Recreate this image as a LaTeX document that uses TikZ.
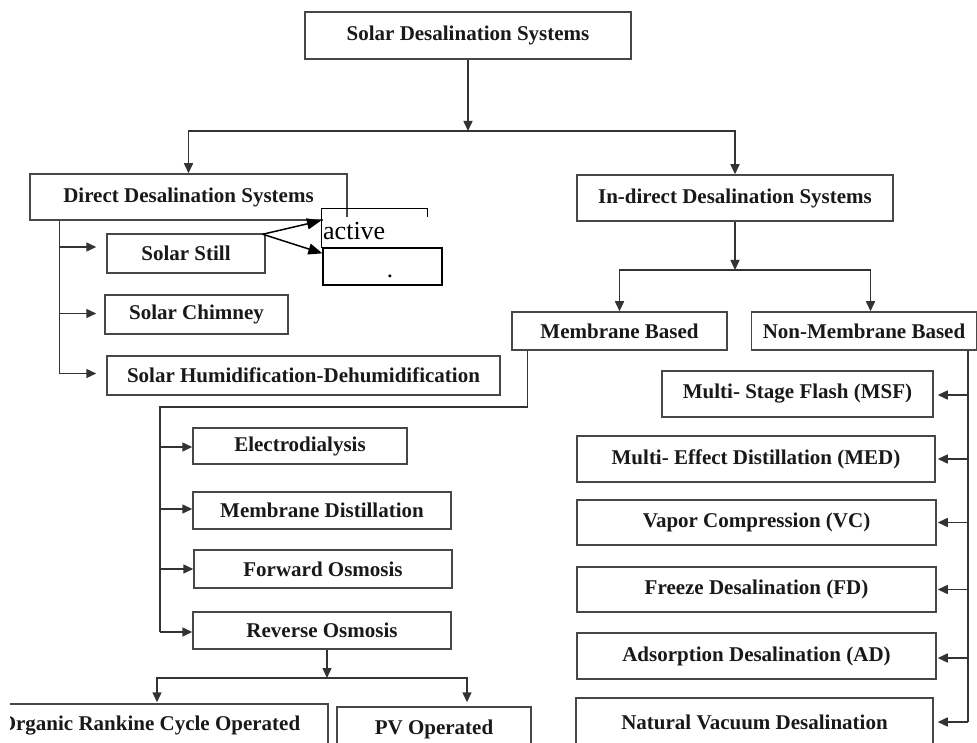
\documentclass[tikz,border=0pt]{standalone}
\usepackage{fontspec}
\setmainfont{Liberation Serif}
\usetikzlibrary{arrows.meta,calc}
\begin{document}
\begin{tikzpicture}[x=1pt,y=-1pt,
  box/.style={draw=black!72, line width=1.5pt, fill=white, inner sep=0pt, text=black!90, font=\bfseries\fontsize{21}{25}\selectfont},
  conn/.style={draw=black!80, line width=1.5pt},
  arr/.style={conn, -{Triangle[length=10pt,width=9pt]}},
  plainbox/.style={draw=black, line width=1.3pt, inner sep=0pt},
  parr/.style={draw=black, line width=1.5pt, -{Triangle[length=14pt,width=11pt]}},
]
\clip (0,0) rectangle (977,743);
\fill[white] (0,0) rectangle (977,743);
% boxes
\node[box, minimum width=326, minimum height=47] (title) at (468,35.5) {Solar Desalination Systems};
\node[box, minimum width=317, minimum height=46] (direct) at (188.5,197) {Direct Desalination Systems};
\node[box, minimum width=316, minimum height=46] (indirect) at (735,198) {In-direct Desalination Systems};
\node[box, minimum width=158, minimum height=39] (still) at (186,253.5) {Solar Still};
\node[box, minimum width=183, minimum height=39] (chimney) at (196.5,314.5) {Solar Chimney};
\node[box, minimum width=393, minimum height=39] (hd) at (303.5,375.5) {Solar Humidification-Dehumidification};
\node[box, minimum width=215, minimum height=38] (membrane) at (619.5,331) {Membrane Based};
\node[box, minimum width=225, minimum height=38] (nonmem) at (864,331) {Non-Membrane Based};
\node[box, minimum width=271, minimum height=46] (msf) at (797.5,394) {Multi- Stage Flash (MSF)};
\node[box, minimum width=358, minimum height=46] (med) at (756,459) {Multi- Effect Distillation (MED)};
\node[box, minimum width=359, minimum height=45] (vc) at (756.5,522.5) {Vapor Compression (VC)};
\node[box, minimum width=359, minimum height=45] (fd) at (756.5,589.5) {Freeze Desalination (FD)};
\node[box, minimum width=359, minimum height=46] (ad) at (756.5,656) {Adsorption Desalination (AD)};
\node[box, minimum width=357, minimum height=48] (nvd) at (754.5,722) {Natural Vacuum Desalination};
\node[box, minimum width=214, minimum height=36] (ed) at (300,446) {Electrodialysis};
\node[box, minimum width=258, minimum height=37] (md) at (322,510.5) {Membrane Distillation};
\node[box, minimum width=258, minimum height=38] (fo) at (323,569) {Forward Osmosis};
\node[box, minimum width=258, minimum height=37] (ro) at (322,630.5) {Reverse Osmosis};
\begin{scope}
\clip (10,690) rectangle (345,750);
\node[box, minimum width=356, minimum height=44] (orc) at (150,726) {Organic Rankine Cycle Operated};
\end{scope}
\node[box, minimum width=194, minimum height=44] (pv) at (434,729) {PV Operated};
% pasted boxes
\node[plainbox, minimum width=106, minimum height=39, anchor=north west] (topbox) at (321,208) {};
\node[fill=white, inner sep=0pt, anchor=base west, text height=23pt, text depth=7pt, text width=118pt, align=left, font=\fontsize{26}{28}\selectfont] (act) at (323,240) {active};
\node[plainbox, minimum width=119, minimum height=37, text height=0pt, text depth=0pt, font=\fontsize{25}{28}\selectfont] (pass) at (382.5,266.5) {\hspace*{15pt}\raisebox{-11pt}{.}};
\draw[parr] ($(still.north east)+(-3,1)$) -- ($(topbox.west)+(0,-7.5)$);
\draw[parr] ($(still.north east)+(-3,1)$) -- ($(pass.north west)+(0,6)$);
% top level connectors
\coordinate (j1) at (468,131);
\draw[arr] (title) -- (j1);
\draw[arr] (j1) -| (direct);
\draw[arr] (j1) -| (indirect);
\coordinate (j2) at (735,270);
\draw[arr] (indirect) -- (j2);
\draw[arr] (j2) -| (membrane);
\draw[arr] (j2) -| ([xshift=6.5pt]nonmem.north);
% direct branch
\coordinate (d0) at ([xshift=30pt]direct.south west);
\draw[arr] (d0) |- ($(hd.west)+(-10,-2)$);
\draw[arr] ($(d0 |- still.west)+(0,-6.5)$) -- ($(still.west)+(-10,-6.5)$);
\draw[arr] ($(d0 |- chimney.west)+(0,-1)$) -- ($(chimney.west)+(-8,-1)$);
% membrane branch
\coordinate (m1) at (160,407);
\draw[conn] ([xshift=16pt]membrane.south west) |- (m1) -- ($(m1 |- ro.west)+(0,1.5)$);
\draw[arr] ($(m1 |- ed.west)+(0,1)$) -- ($(ed.west)+(0,1)$);
\draw[arr] ($(m1 |- md.west)+(0,-1.5)$) -- ($(md.west)+(0,-1.5)$);
\draw[arr] (m1 |- fo.west) -- (fo.west);
\draw[arr] ($(m1 |- ro.west)+(0,1.5)$) -- ($(ro.west)+(0,1.5)$);
% reverse osmosis
\coordinate (r1) at (327,678);
\draw[arr] ([xshift=5pt]ro.south) -- (r1);
\draw[arr] (r1) -| ([xshift=7pt,yshift=1pt]orc.north);
\draw[arr] (r1) -| ([xshift=33pt,yshift=4pt]pv.north);
% non-membrane branch
\coordinate (n1) at (968,722);
\draw[conn] (nonmem.south -| n1) -- (n1);
\draw[arr] ($(n1 |- msf.east)+(0,1)$) -- ($(msf.east)+(4,1)$);
\draw[arr] (n1 |- med.east) -- ($(med.east)+(2,0)$);
\draw[arr] (n1 |- vc.east) -- ($(vc.east)+(1,0)$);
\draw[arr] (n1 |- fd.east) -- ($(fd.east)+(1,0)$);
\draw[arr] ($(n1 |- ad.east)+(0,2)$) -- ($(ad.east)+(1,2)$);
\draw[arr] (n1) -- ($(nvd.east)+(4,0)$);
\end{tikzpicture}
\end{document}
